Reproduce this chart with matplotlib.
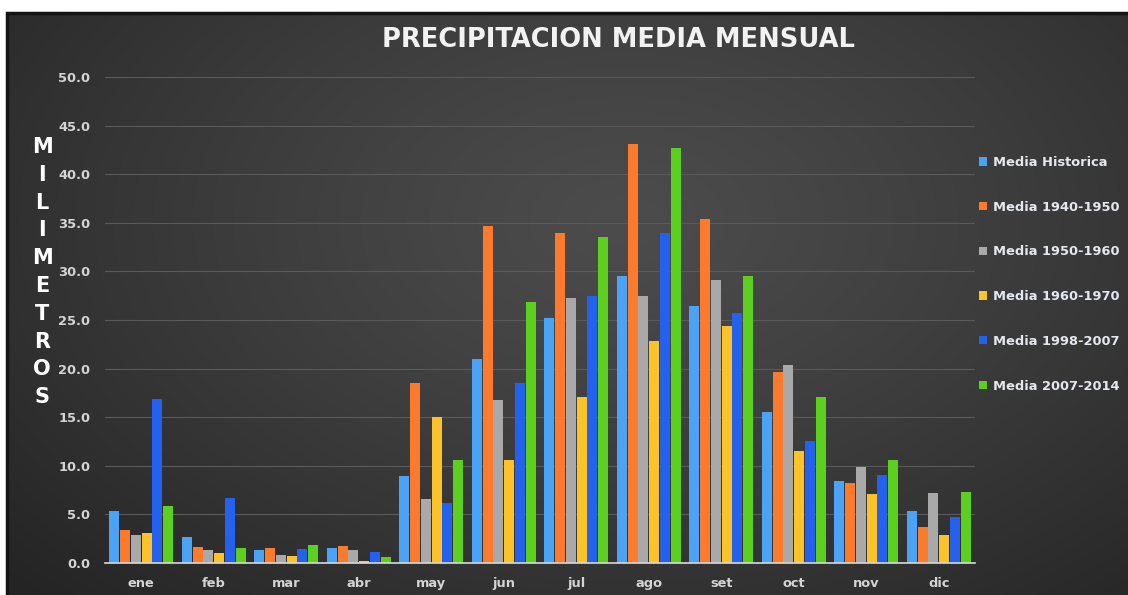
import numpy as np
import matplotlib
matplotlib.use('Agg')
import matplotlib.pyplot as plt
from matplotlib.patches import Rectangle

months = ['ene', 'feb', 'mar', 'abr', 'may', 'jun', 'jul', 'ago', 'set', 'oct', 'nov', 'dic']
series_names = ['Media Historica', 'Media 1940-1950', 'Media 1950-1960',
                'Media 1960-1970', 'Media 1998-2007', 'Media 2007-2014']

media_historica = [5.3, 2.7, 1.3, 1.5, 8.9, 21.0, 25.2, 29.5, 26.4, 15.5, 8.4, 5.4]
media_1940_1950 = [3.4, 1.6, 1.5, 1.8, 18.5, 34.7, 34.0, 43.1, 35.4, 19.7, 8.2, 3.7]
media_1950_1960 = [2.9, 1.3, 0.8, 1.3, 6.6, 16.8, 27.3, 27.5, 29.1, 20.4, 9.9, 7.2]
media_1960_1970 = [3.1, 1.0, 0.7, 0.2, 15.0, 10.6, 17.1, 22.8, 24.4, 11.5, 7.1, 2.9]
media_1998_2007 = [16.9, 6.7, 1.4, 1.1, 6.2, 18.5, 27.5, 33.9, 25.7, 12.6, 9.1, 4.7]
media_2007_2014 = [5.9, 1.5, 1.9, 0.6, 10.6, 26.9, 33.5, 42.7, 29.5, 17.1, 10.6, 7.3]

series = [media_historica, media_1940_1950, media_1950_1960,
          media_1960_1970, media_1998_2007, media_2007_2014]
colors = ['#4aa3f7', '#fb7a2c', '#a9a9a9', '#fcc22a', '#2461ee', '#5ccf1f']

W, H = 1128, 595
fig = plt.figure(figsize=(W / 100, H / 100), dpi=100, facecolor='white')

# dark radial-gradient background of the chart frame (runs off the right and bottom edges)
bg = fig.add_axes([7 / W, -0.02, 1.0, 1.02 - 13 / H], zorder=-5)
yy, xx = np.mgrid[0:1:300j, 0:1:600j]
r = np.sqrt(((xx - 0.55) / 0.75) ** 2 + ((yy - 0.35) / 0.9) ** 2)
r = np.clip(r, 0, 1)
c0, c1 = 0x4c / 255, 0x24 / 255
img = c0 + (c1 - c0) * r ** 1.2
bg.imshow(np.dstack([img, img, img]), aspect='auto', extent=[0, 1, 0, 1], origin='upper')
bg.add_patch(Rectangle((0, 0), 1, 1, transform=bg.transAxes, fill=False,
                       edgecolor='#141414', linewidth=2.5, clip_on=False))
bg.axis('off')

ax = fig.add_axes([105 / W, 1 - 563 / H, 870 / W, 486 / H])
ax.set_facecolor('none')

x = np.arange(len(months))
step = 0.148
bw = 0.138
for i, (vals, name, col) in enumerate(zip(series, series_names, colors)):
    ax.bar(x + (i - 2.5) * step, vals, width=bw, color=col, label=name, zorder=3)

ax.set_xlim(-0.5, 11.5)
ax.set_ylim(0, 50)
ax.set_yticks(np.arange(0, 50.1, 5))
ax.set_yticklabels([f'{v:.1f}' for v in np.arange(0, 50.1, 5)])
ax.set_xticks(x)
ax.set_xticklabels(months)
ax.grid(axis='y', color='#5a5a5a', linewidth=0.8, zorder=0)
for s in ['top', 'right', 'left']:
    ax.spines[s].set_visible(False)
ax.spines['bottom'].set_color('#d9d9d9')
ax.spines['bottom'].set_linewidth(1.2)
ax.spines['bottom'].set_zorder(4)
ax.tick_params(axis='both', length=0, colors='#d4d4d4', labelsize=9.4)
ax.tick_params(axis='y', pad=10.5)
ax.tick_params(axis='x', pad=10)
for lab in ax.get_xticklabels() + ax.get_yticklabels():
    lab.set_fontweight('bold')

fig.text(618 / W, 1 - 40 / H, 'PRECIPITACION MEDIA MENSUAL', ha='center', va='center',
         fontsize=18.5, fontweight='bold', color='#f2f2f2')

# stacked vertical axis title
label = 'MILIMETROS'
for k, ch in enumerate(label):
    fig.text(42 / W, 1 - (147 + k * 27.8) / H, ch, ha='center', va='center',
             fontsize=15, fontweight='heavy', color='white', family='DejaVu Sans')

leg = fig.legend(loc='upper left', bbox_to_anchor=(979 / W, 1 - 156 / H), frameon=False,
                 fontsize=9.4, labelspacing=2.43, handlelength=0.6, handleheight=0.6,
                 handletextpad=0.5, borderpad=0, borderaxespad=0)
for t in leg.get_texts():
    t.set_color('#e4e8ee')
    t.set_fontweight('bold')

fig.savefig('out.png', dpi=100, facecolor='white')
